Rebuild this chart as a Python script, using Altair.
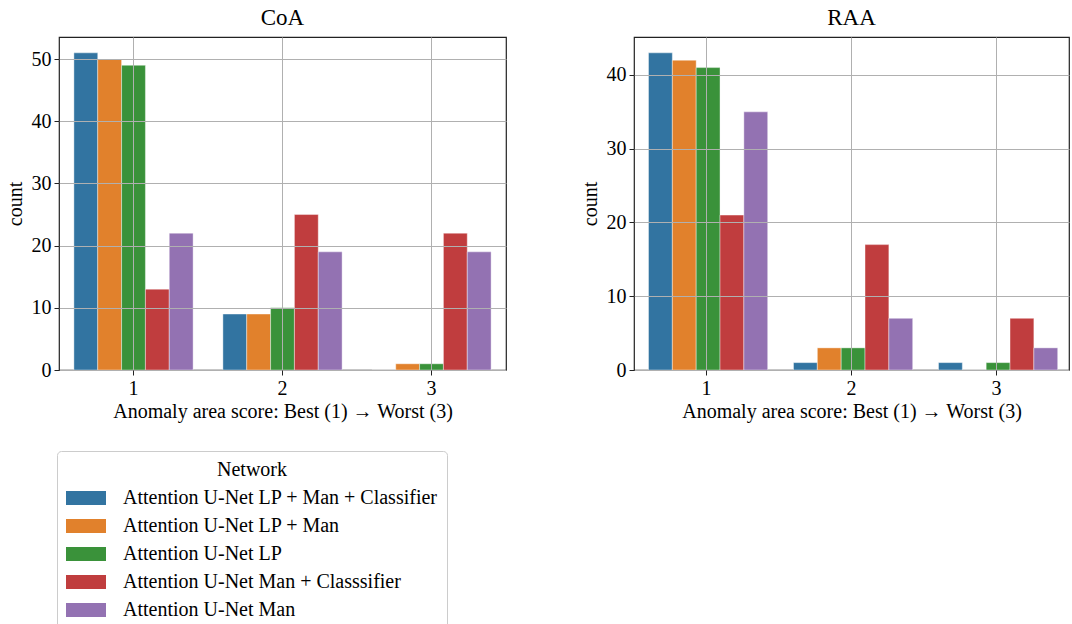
import altair as alt
import pandas as pd

networks = [
    "Attention U-Net LP + Man + Classifier",
    "Attention U-Net LP + Man",
    "Attention U-Net LP",
    "Attention U-Net Man + Classsifier",
    "Attention U-Net Man",
]
colors = ["#3274a1", "#e1812c", "#3a923a", "#c03d3e", "#9372b2"]
scores = ["1", "2", "3"]

# counts per score (rows) and network (columns)
coa_score1 = [51, 50, 49, 13, 22]
coa_score2 = [9, 9, 10, 25, 19]
coa_score3 = [0, 1, 1, 22, 19]
raa_score1 = [43, 42, 41, 21, 35]
raa_score2 = [1, 3, 3, 17, 7]
raa_score3 = [1, 0, 1, 7, 3]


def make_df(rows):
    recs = []
    for s, vals in zip(scores, rows):
        for n, v in zip(networks, vals):
            recs.append({"score": s, "network": n, "count": v})
    return pd.DataFrame(recs)


coa_df = make_df([coa_score1, coa_score2, coa_score3])
raa_df = make_df([raa_score1, raa_score2, raa_score3])

FONT = "Liberation Serif"


def panel(title, df, ymax, yvals, width):
    return (
        alt.Chart(df)
        .mark_bar(stroke="white", strokeWidth=0.4)
        .encode(
            x=alt.X(
                "score:N",
                sort=scores,
                title="Anomaly area score: Best (1) \u2192 Worst (3)",
                scale=alt.Scale(paddingInner=0.2, paddingOuter=0.1),
                axis=alt.Axis(
                    labelAngle=0,
                    bandPosition=0.5,
                    grid=True,
                    zindex=1,
                    labelPadding=3,
                    titlePadding=3,
                ),
            ),
            xOffset=alt.XOffset(
                "network:N",
                sort=networks,
                scale=alt.Scale(paddingInner=0, paddingOuter=0),
            ),
            y=alt.Y(
                "count:Q",
                title="count",
                scale=alt.Scale(domain=[0, ymax], nice=False, zero=True),
                axis=alt.Axis(values=yvals, grid=True, zindex=1, titlePadding=6),
            ),
            color=alt.Color(
                "network:N",
                sort=networks,
                scale=alt.Scale(domain=networks, range=colors),
                legend=alt.Legend(title="Network"),
            ),
        )
        .properties(width=width, height=333, title=title)
    )


coa = panel("CoA", coa_df, 53.55, [0, 10, 20, 30, 40, 50], 447)
raa = panel("RAA", raa_df, 45.15, [0, 10, 20, 30, 40], 435)

chart = (
    alt.hconcat(coa, raa, spacing=72)
    .properties(padding={"left": 4, "top": 6, "right": 0, "bottom": 0})
    .configure(font=FONT)
    .configure_view(stroke="#222222", strokeWidth=1.2)
    .configure_axis(
        labelFont=FONT,
        titleFont=FONT,
        labelFontSize=20,
        titleFontSize=20,
        titleFontWeight="normal",
        labelColor="#000000",
        titleColor="#000000",
        domain=False,
        tickColor="#222222",
        tickSize=5,
        labelPadding=3,
        gridColor="#b0b0b0",
        gridWidth=1,
    )
    .configure_title(font=FONT, fontSize=23, fontWeight="normal", color="#000000", offset=7)
    .configure_legend(
        orient="none",
        legendX=-2,
        legendY=414,
        titleFont=FONT,
        labelFont=FONT,
        titleFontSize=20,
        labelFontSize=20,
        titleFontWeight="normal",
        titleColor="#000000",
        labelColor="#000000",
        titleAnchor="middle",
        titlePadding=8,
        symbolType="M-1,-0.7L3,-0.7L3,0.7L-1,0.7Z",
        symbolSize=400,
        symbolStrokeWidth=0,
        symbolOpacity=1,
        labelOffset=37,
        rowPadding=8,
        padding=9,
        strokeColor="#cccccc",
        fillColor="white",
        cornerRadius=4,
        labelLimit=400,
    )
)

chart.save("out.html", embed_options={"renderer": "svg", "actions": False})
